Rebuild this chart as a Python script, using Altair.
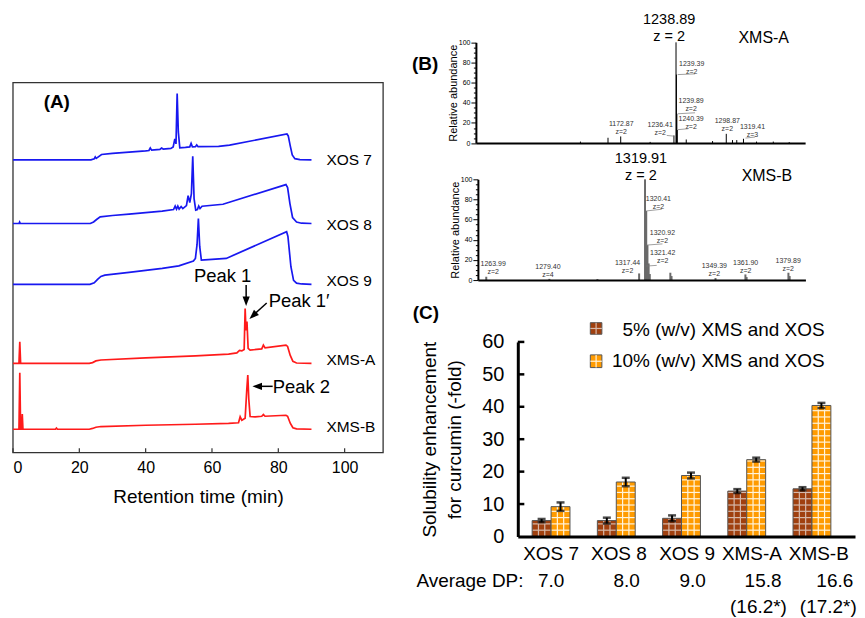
import altair as alt
import pandas as pd

W, H = 849, 602
FONT = "Liberation Sans"

# ======================= DATA =======================
# ---- (A) HPLC chromatograms: retention time (min) and detector signal (a.u.) above each baseline
trace_names = ["XOS 7", "XOS 8", "XOS 9", "XMS-A", "XMS-B"]
trace_baseline = [293.5, 229.7, 168.7, 89.5, 23.5]
trace_colors = ["#1818F0", "#1818F0", "#1818F0", "#FF1A1A", "#FF1A1A"]
trace_widths = [1.7, 1.7, 1.7, 1.3, 1.3]

xos7_t = [0, 23.5, 24.5, 24.8, 25.1, 26.7, 30, 35, 40, 41.0, 41.4, 41.8, 44.3, 44.8, 45.3, 47.6, 48.3, 48.8,
          49.15, 49.5, 49.85, 50.3, 52.0, 53.3, 53.7, 54.1, 55.0, 55.4, 55.8, 62.0, 65.3, 82.6, 83.0, 83.6,
          84.2, 85.0, 86.5, 90.0]
xos7_s = [0, 0, 1.0, 3.0, 1.5, 5.4, 6.5, 7.8, 9.0, 9.4, 12.0, 9.8, 10.5, 11.8, 10.8, 11.5, 13.0, 21.0,
          16.0, 66.4, 28.0, 12.0, 12.5, 13.0, 16.5, 13.0, 13.2, 15.0, 13.2, 13.5, 14.7, 26.0, 24.0, 14.0,
          5.0, 1.2, 0.3, 0]
xos8_t = [0, 1.8, 2.0, 2.2, 23.3, 24.3, 25.2, 26.3, 30, 35, 40, 45, 48.4, 48.9, 49.3, 49.7, 50.1, 50.7,
          51.2, 52.3, 52.8, 53.3, 53.8, 54.2, 54.6, 55.1, 55.6, 56.0, 56.4, 57.0, 63.3, 82.3, 82.8, 83.5,
          84.3, 85.5, 87.0, 90.0]
xos8_s = [0, 0, 1.5, 0, 0, 1.5, 4.0, 6.7, 8.0, 9.5, 11.0, 12.5, 14.0, 17.5, 14.5, 17.5, 14.5, 17.0,
          15.0, 18.0, 28.0, 21.0, 30.0, 67.3, 25.0, 13.5, 14.0, 17.5, 15.0, 17.3, 19.3, 39.0, 36.0, 20.0,
          6.0, 1.5, 0.3, 0]
xos9_t = [0, 23.2, 24.5, 25.5, 26.5, 27.7, 35, 45, 50, 54.4, 55.0, 55.5, 55.9, 56.3, 56.8, 60, 64.3,
          82.5, 82.9, 83.8, 84.6, 85.5, 87.0, 90.0]
xos9_s = [0, 0, 1.5, 5.0, 8.0, 9.3, 12.0, 16.0, 18.5, 23.3, 26.0, 40.0, 66.0, 38.0, 24.3, 25.0, 26.0,
          52.7, 48.0, 17.7, 4.0, 1.2, 0.4, 0]
xmsa_t = [0, 1.8, 2.05, 2.3, 23.0, 24.0, 25.0, 26.5, 40, 55, 65, 67.5, 68.3, 69.0, 69.7, 70.0, 70.25,
          70.55, 70.9, 71.5, 75.0, 75.5, 76.0, 82.3, 82.8, 83.6, 84.4, 85.5, 90.0]
xmsa_s = [0, 0, 21.7, 0, 0, 0.8, 2.5, 3.4, 5.5, 7.5, 9.3, 10.5, 13.0, 12.5, 14.0, 55.0, 33.0,
          42.0, 15.0, 13.3, 14.5, 18.3, 15.5, 18.3, 17.0, 8.0, 2.0, 0.4, 0]
xmsb_t = [0, 1.8, 2.05, 2.3, 2.6, 2.8, 3.0, 12.8, 13.1, 13.4, 23.0, 24.0, 25.0, 26.5, 40, 55, 65, 68.0,
          68.5, 69.0, 70.0, 70.5, 70.8, 71.1, 71.5, 73.0, 75.0, 75.5, 76.0, 82.3, 82.8, 83.6, 84.4, 85.5,
          90.0]
xmsb_s = [0, 0, 56.7, 0, 0, 15.3, 0, 0, 1.2, 0, 0, 0.8, 2.0, 2.7, 4.0, 5.0, 5.8, 6.5,
          12.5, 9.0, 11.0, 40.0, 54.3, 30.0, 12.7, 12.3, 13.0, 14.7, 13.0, 14.0, 13.0, 6.0, 1.5, 0.3,
          0]
trace_t = [xos7_t, xos8_t, xos9_t, xmsa_t, xmsb_t]
trace_s = [xos7_s, xos8_s, xos9_s, xmsa_s, xmsb_s]
rt_ticks = [0, 20, 40, 60, 80, 100]

# ---- (B) ESI-MS spectra: m/z and relative abundance (%)
msa_mz = [1124.8, 1157.7, 1172.87, 1208.0, 1236.41, 1238.89, 1239.39, 1239.89, 1240.39, 1251.1,
          1282.5, 1298.87, 1306.3, 1311.4, 1319.41, 1335.0, 1355.0, 1374.0]
msa_ab = [1.5, 5.3, 6.6, 1.2, 7.6, 100, 68, 29, 13, 3.6, 2.0, 9.2, 3.0, 3.0, 4.3, 1.5, 1.5, 1.0]
msb_mz = [1253.5, 1279.9, 1300.0, 1317.44, 1319.91, 1320.41, 1320.92, 1321.42, 1321.9, 1330.5, 1331.0,
          1349.39, 1361.90, 1362.4, 1379.89, 1380.4]
msb_ab = [3.3, 1.2, 1.0, 6.6, 100, 68.6, 34.7, 16.5, 6.0, 7.3, 4.0, 2.0, 5.6, 3.0, 7.3, 4.0]
msa_peak_labels = ["1172.87", "1236.41", "1239.39", "1239.89", "1240.39", "1298.87", "1319.41"]
msa_peak_z = ["z=2", "z=2", "z=2", "z=2", "z=2", "z=2", "z=3"]
msb_peak_labels = ["1263.99", "1279.40", "1317.44", "1320.41", "1320.92", "1321.42", "1349.39",
                   "1361.90", "1379.89"]
msb_peak_z = ["z=2", "z=4", "z=2", "z=2", "z=2", "z=2", "z=2", "z=2", "z=2"]
msa_main = "1238.89\n\u00a0\u00a0z = 2"
msb_main = "1319.91\n\u00a0z = 2"

# ---- (C) solubility enhancement for curcumin (-fold)
categories = ["XOS 7", "XOS 8", "XOS 9", "XMS-A", "XMS-B"]
avg_dp = ["7.0", "8.0", "9.0", "15.8", "16.6"]
avg_dp_star = ["(16.2*)", "(17.2*)"]
series_names = ["5% (w/v) XMS and XOS", "10% (w/v) XMS and XOS"]
sol_5 = [4.9, 4.9, 5.6, 14.0, 14.7]
sol_5_err = [0.5, 0.9, 0.9, 0.6, 0.5]
sol_10 = [9.2, 16.8, 18.8, 23.7, 40.4]
sol_10_err = [1.3, 1.3, 0.9, 0.6, 0.8]
c_ticks = [0, 10, 20, 30, 40, 50, 60]

# ======================= LAYOUT (pixel ranges of each panel) =======================
PANEL = {
    "A": ([0, 111.6], [5, 376], [0, 371], [445, 74]),
    "B1": ([1000, 1393], [469, 799], [0, 100], [134.7, 33.7]),
    "B2": ([1250, 1387], [471, 799.3], [0, 100], [272, 171]),
    "C": ([-0.51, 4.66], [511, 849], [0, 60], [529, 334]),
}


def xy(p, xf="x", yf="y", xaxis=None, yaxis=None):
    xd, xr, yd, yr = PANEL[p]
    return {
        "x": alt.X(f"{xf}:Q", scale=alt.Scale(domain=xd, range=xr, nice=False, zero=False), axis=xaxis),
        "y": alt.Y(f"{yf}:Q", scale=alt.Scale(domain=yd, range=yr, nice=False, zero=False), axis=yaxis),
    }


def text_layer(p, rows, **mk):
    df = pd.DataFrame(rows, columns=["txt", "x", "y"])
    return alt.Chart(df).mark_text(font=FONT, **mk).encode(text="txt:N", **xy(p))


def seg_layer(p, rows, **mk):
    df = pd.DataFrame(rows, columns=["x", "y", "x2", "y2"])
    return alt.Chart(df).mark_rule(**mk).encode(x2="x2:Q", y2="y2:Q", **xy(p))


layers = []

# ======================= PANEL A =======================
rowsA = []
for name, base, ts, ss in zip(trace_names, trace_baseline, trace_t, trace_s):
    for i, (t, s) in enumerate(zip(ts, ss)):
        rowsA.append({"trace": name, "i": i, "x": t, "y": base + s})
dfA = pd.DataFrame(rowsA)

frame = pd.DataFrame({"x": [PANEL["A"][0][0]], "x2": [PANEL["A"][0][1]],
                      "y": [PANEL["A"][2][0]], "y2": [PANEL["A"][2][1]]})
axisA = alt.Axis(orient="bottom", offset=445 - H, values=rt_ticks, domain=False, ticks=False,
                 labelFont=FONT, labelFontSize=16, labelColor="black", labelPadding=7,
                 title="Retention time (min)", titleFont=FONT, titleFontSize=19,
                 titleFontWeight="normal", titleColor="black", titleY=44, titleBaseline="middle",
                 grid=False)
layers.append(alt.Chart(frame).mark_rect(fillOpacity=0, stroke="#333", strokeWidth=1.3)
              .encode(x2="x2:Q", y2="y2:Q", **xy("A", xaxis=axisA)))
layers.append(alt.Chart(pd.DataFrame({"x": rt_ticks, "y": 0, "y2": 4.5}))
              .mark_rule(color="#333", strokeWidth=1.2).encode(y2="y2:Q", **xy("A")))
layers.append(alt.Chart(dfA).mark_line(interpolate="linear").encode(
    color=alt.Color("trace:N", scale=alt.Scale(domain=trace_names, range=trace_colors), legend=None),
    strokeWidth=alt.StrokeWidth("trace:N", scale=alt.Scale(domain=trace_names, range=trace_widths),
                                legend=None),
    detail="trace:N", order="i:Q", **xy("A")))

layers.append(text_layer("A", [("(A)", 13.2, 351)], fontSize=19, fontWeight="bold", color="black"))
label_y = [293.7, 228, 172, 93, 26]
layers.append(text_layer("A", [(n, 94.5, y) for n, y in zip(trace_names, label_y)],
                         fontSize=15.5, align="left", color="black"))
layers.append(text_layer("A", [("Peak 1", 63.2, 177.3)], fontSize=18.5, color="black"))
layers.append(text_layer("A", [("Peak 1\u2032", 77.1, 152.5), ("Peak 2", 78.3, 66.3)],
                         fontSize=18.5, align="left", color="black"))
layers.append(seg_layer("A", [(70.3, 168, 70.3, 152), (76.5, 150, 72.3, 137.5), (78.3, 66.5, 73.5, 66.5)],
                        color="black", strokeWidth=1.5))
ARROW = "M0,0L-0.45,-1.2L0.45,-1.2Z"
heads = pd.DataFrame({"x": [70.3, 71.3, 72.2], "y": [147, 134, 66.5], "ang": [0, 47, 90]})
layers.append(alt.Chart(heads).mark_point(shape=ARROW, filled=True, size=256, color="black", opacity=1)
              .encode(angle=alt.Angle("ang:Q", scale=None), **xy("A")))

# ======================= PANEL B =======================
def spec_yaxis(offset):
    return alt.Axis(orient="left", offset=offset, values=list(range(0, 101, 5)),
                    labelExpr="datum.value % 20 === 0 ? datum.label : ''",
                    tickSize={"condition": {"test": "datum.value % 20 === 0", "value": 5}, "value": 2.5},
                    tickColor="black", tickWidth=1, domainColor="black", domainWidth=2,
                    labelFont=FONT, labelFontSize=7, labelColor="black", labelPadding=1,
                    labelOverlap=False, title="Relative abundance", titleFont=FONT, titleFontSize=11,
                    titleFontWeight="normal", titleColor="black", titleX=-22, titleBaseline="middle",
                    grid=False, zindex=1)


def spec_xaxis(offset):
    return alt.Axis(orient="bottom", offset=offset, labels=False, ticks=False, domainColor="black",
                    domainWidth=2, title=None, grid=False, zindex=1)


dfB1 = pd.DataFrame({"x": msa_mz, "y": 0, "y2": msa_ab})
layers.append(alt.Chart(dfB1).mark_rule(color="black", strokeWidth=1).encode(
    y2="y2:Q", **xy("B1", xaxis=spec_xaxis(134.7 - H), yaxis=spec_yaxis(-469))))
dfB2 = pd.DataFrame({"x": msb_mz, "y": 0, "y2": msb_ab})
layers.append(alt.Chart(dfB2).mark_rule(color="#6a6a6a", strokeWidth=2).encode(
    y2="y2:Q", **xy("B2", xaxis=spec_xaxis(272 - H), yaxis=spec_yaxis(-471))))

# small peak labels (position of each label: m/z, abundance)
msa_lab_x = [1173.5, 1220.0, 1257.6, 1256.9, 1256.9, 1300.1, 1330.2]
msa_lab_y = [19.2, 18.2, 78.6, 41.3, 24.2, 21.8, 15.8]
rows = []
for t, z, x, y in zip(msa_peak_labels, msa_peak_z, msa_lab_x, msa_lab_y):
    rows += [(t, x, y), (z, x, y - 7.8)]
layers.append(text_layer("B1", rows, fontSize=7, color="#333"))
layers.append(seg_layer("B1", [(1227.8, 7.6, 1236.6, 6.9), (1240.9, 68.0, 1261.6, 68.7),
                               (1240.9, 29.1, 1261.6, 30.1), (1240.9, 13.3, 1253.6, 14.3),
                               (1321.9, 5.0, 1333.1, 6.0)], color="#777", strokeWidth=0.7))
msb_lab_x = [1256.4, 1279.3, 1312.6, 1325.5, 1327.2, 1327.3, 1348.9, 1362.0, 1379.8]
msb_lab_y = [15.8, 12.9, 17.1, 80.9, 46.8, 26.4, 13.9, 17.1, 19.1]
rows = []
for t, z, x, y in zip(msb_peak_labels, msb_peak_z, msb_lab_x, msb_lab_y):
    rows += [(t, x, y), (z, x, y - 7.9)]
layers.append(text_layer("B2", rows, fontSize=7, color="#333"))
layers.append(seg_layer("B2", [(1320.4, 68.6, 1326.9, 70.3), (1320.4, 34.7, 1327.2, 35.9),
                               (1320.4, 13.9, 1324.8, 14.6)], color="#777", strokeWidth=0.7))

layers.append(text_layer("B1", [(msa_main, 1230.7, 122.0)], fontSize=14.5, lineBreak="\n",
                         lineHeight=16.5, color="black"))
layers.append(text_layer("B1", [("XMS-A", 1343.6, 104.4)], fontSize=16, color="black"))
layers.append(text_layer("B2", [(msb_main, 1318.2, 119.8)], fontSize=14.5, lineBreak="\n",
                         lineHeight=16.5, color="black"))
layers.append(text_layer("B2", [("XMS-B", 1370.9, 103.3)], fontSize=16, color="black"))
layers.append(text_layer("B1", [("(B)", 939.3, 78.9)], fontSize=19, fontWeight="bold", color="black"))

# ======================= PANEL C =======================
BROWN, BROWN_LINE = "#A0400F", "#D6B9AB"
ORANGE, ORANGE_LINE = "#FF9B00", "#FFF4DC"
BAR_W = 0.29
CELL = 1.94

bars = []
for i in range(len(categories)):
    bars.append({"s": "5%", "x": i - BAR_W, "x2": i, "v": sol_5[i], "e": sol_5_err[i]})
    bars.append({"s": "10%", "x": i, "x2": i + BAR_W, "v": sol_10[i], "e": sol_10_err[i]})
dfC = pd.DataFrame(bars)
dfC["y"] = 0.0
dfC["xc"] = (dfC["x"] + dfC["x2"]) / 2
dfC["lo"] = dfC["v"] - dfC["e"]
dfC["hi"] = dfC["v"] + dfC["e"]

axisCx = alt.Axis(orient="bottom", offset=529 - H, labels=False, ticks=False, domainColor="black",
                  domainWidth=3, title=None, grid=False, zindex=1)
axisCy = alt.Axis(orient="left", offset=-511, values=c_ticks, ticks=False, domainColor="black",
                  domainWidth=3, labelFont=FONT, labelFontSize=20, labelColor="black", labelPadding=14,
                  title=["Solubility enhancement", "for curcumin (-fold)"], titleFont=FONT,
                  titleFontSize=19, titleFontWeight="normal", titleColor="black", titleX=-88,
                  titleBaseline="middle", titleLineHeight=25, grid=False, zindex=1)

for s, fill, line in [("5%", BROWN, BROWN_LINE), ("10%", ORANGE, ORANGE_LINE)]:
    sub = dfC[dfC["s"] == s]
    first = s == "5%"
    layers.append(alt.Chart(sub).mark_rect(color=fill).encode(
        x2="x2:Q", y2="v:Q",
        **xy("C", xaxis=axisCx if first else None, yaxis=axisCy if first else None)))
    prow = []
    for _, b in sub.iterrows():
        k = 1
        while k * CELL < b["v"] - 0.4:
            prow.append((b["x"], k * CELL, b["x2"], k * CELL))
            k += 1
        for j in (1, 2):
            xx = b["x"] + (b["x2"] - b["x"]) * j / 3
            prow.append((xx, 0, xx, b["v"]))
    layers.append(seg_layer("C", prow, color=line, strokeWidth=1.2))
    layers.append(alt.Chart(sub).mark_rect(fillOpacity=0, stroke="#555", strokeWidth=1).encode(
        x2="x2:Q", y2="v:Q", **xy("C")))

# error bars
layers.append(alt.Chart(dfC).mark_rule(color="black", strokeWidth=2).encode(
    y2="hi:Q", **xy("C", xf="xc", yf="lo")))
caps = pd.concat([dfC.assign(cy=dfC["lo"]), dfC.assign(cy=dfC["hi"])])
layers.append(alt.Chart(caps).mark_tick(orient="horizontal", size=8, thickness=2.5, color="black")
              .encode(**xy("C", xf="xc", yf="cy")))

# inward y ticks
layers.append(alt.Chart(pd.DataFrame({"x": -0.51, "x2": -0.41, "y": c_ticks[1:]}))
              .mark_rule(color="black", strokeWidth=2.5).encode(x2="x2:Q", **xy("C")))

# category labels and average DP
cat_x = [0.0, 1.04, 2.085, 3.08, 4.105]
layers.append(text_layer("C", [(c, x, -5.5) for c, x in zip(categories, cat_x)], fontSize=19, color="black"))
dp_x = [0.0, 1.16, 2.17, 3.25, 4.35]
layers.append(text_layer("C", [(d, x, -13.75) for d, x in zip(avg_dp, dp_x)], fontSize=19, color="black"))
layers.append(text_layer("C", [("Average DP:", -2.064, -13.75)], fontSize=19, align="left", color="black"))
layers.append(text_layer("C", [(d, x, -21.9) for d, x in zip(avg_dp_star, [3.18, 4.25])],
                         fontSize=19, color="black"))
layers.append(text_layer("C", [("(C)", -1.92, 68.8)], fontSize=19, fontWeight="bold", color="black"))

# legend
leg = pd.DataFrame({"s": ["5%", "10%"], "x": [0.602, 0.602], "x2": [0.779, 0.779],
                    "y": [62.37, 52.09], "y2": [65.94, 56.0]})
for s, fill, line in [("5%", BROWN, BROWN_LINE), ("10%", ORANGE, ORANGE_LINE)]:
    r = leg[leg["s"] == s].iloc[0]
    layers.append(alt.Chart(leg[leg["s"] == s]).mark_rect(color=fill, stroke="#555", strokeWidth=1)
                  .encode(x2="x2:Q", y2="y2:Q", **xy("C")))
    mx, my = (r["x"] + r["x2"]) / 2, (r["y"] + r["y2"]) / 2
    layers.append(seg_layer("C", [(mx, r["y"], mx, r["y2"]), (r["x"], my, r["x2"], my)],
                            color=line, strokeWidth=1.2))
layers.append(text_layer("C", [(series_names[0], 4.193, 63.7), (series_names[1], 4.193, 54.15)],
                         fontSize=19, align="right", color="black"))

chart = (alt.layer(*layers)
         .resolve_scale(x="independent", y="independent", color="independent",
                        strokeWidth="independent")
         .properties(width=W, height=H, padding=0)
         .configure_view(stroke=None)
         .configure_axis(grid=False))

chart.save("out.html", embed_options={"renderer": "svg", "actions": False})
